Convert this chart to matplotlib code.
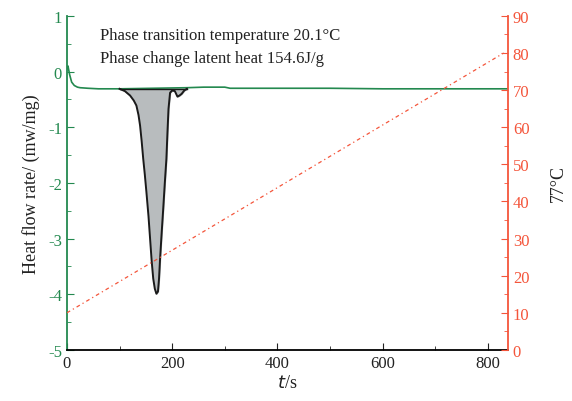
import matplotlib.pyplot as plt
from matplotlib.ticker import MultipleLocator

plt.rcParams['font.family'] = ['Liberation Serif', 'DejaVu Serif']
plt.rcParams['axes.unicode_minus'] = False

green = '#23894f'
red = '#f4553b'

# heat flow baseline (green trace)
t_base = [0, 2, 5, 9, 14, 20, 25, 40, 60, 80, 100, 228, 260, 300, 310, 400, 500, 600, 700, 800, 838]
hf_base = [0.05, 0.1, -0.05, -0.19, -0.25, -0.28, -0.29, -0.3, -0.31, -0.31, -0.31, -0.29, -0.28, -0.28, -0.3, -0.3, -0.3, -0.31, -0.31, -0.31, -0.31]

# melting peak (black outline, grey fill)
t_peak = [100, 110, 120, 127, 132, 136, 139, 142, 145, 148, 151, 155, 158, 161, 164, 167, 170, 173, 175, 177,
          180, 183, 186, 189, 191, 193, 196, 200, 205, 210, 214, 218, 223, 228]
hf_peak = [-0.31, -0.35, -0.43, -0.52, -0.61, -0.78, -0.97, -1.25, -1.57, -1.85, -2.16, -2.6, -3.0, -3.4, -3.72, -3.9, -3.99, -3.95, -3.72, -3.36,
           -2.9, -2.46, -2.0, -1.57, -1.1, -0.67, -0.38, -0.34, -0.35, -0.45, -0.43, -0.40, -0.34, -0.31]

# sample temperature
t_temp = [0, 830]
temp = [10, 80]

fig, ax = plt.subplots(figsize=(5.72, 4.02), dpi=100)
fig.subplots_adjust(left=0.117, right=0.888, top=0.958, bottom=0.127)

ax.plot(t_base, hf_base, color=green, lw=1.2, zorder=3)
ax.fill_between(t_peak, hf_peak, -0.31, color='#b8bcbe', zorder=2)
ax.plot(t_peak, hf_peak, color='#1a1a1a', lw=1.4, zorder=4)
ax.plot([t_peak[0], t_peak[-1]], [-0.31, -0.31], color='#1a1a1a', lw=1.0, zorder=4)

ax.set_xlim(0, 838)
ax.set_ylim(-5, 1)
ax.xaxis.set_major_locator(MultipleLocator(200))
ax.xaxis.set_minor_locator(MultipleLocator(100))
ax.yaxis.set_major_locator(MultipleLocator(1))
ax.yaxis.set_minor_locator(MultipleLocator(0.5))
ax.tick_params(axis='x', which='both', direction='in', colors='#222222', labelsize=12)
ax.tick_params(axis='y', which='both', direction='in', colors=green, labelsize=12)
ax.tick_params(which='major', length=5)
ax.tick_params(which='minor', length=3)
ax.spines['top'].set_visible(False)
ax.spines['right'].set_visible(False)
ax.spines['left'].set_color(green)
ax.spines['left'].set_linewidth(1.3)
ax.spines['bottom'].set_linewidth(1.3)
ax.set_ylabel('Heat flow rate/ (mw/mg)', fontsize=13, color='#222222', labelpad=6)
ax.set_xlabel(r'$\it{t}$/s', fontsize=13, color='#222222', labelpad=2)

ax2 = ax.twinx()
ax2.plot(t_temp, temp, color=red, lw=0.9, linestyle=(0, (3, 2.5, 1, 2.5)), zorder=1)
ax2.set_ylim(0, 90)
ax2.yaxis.set_major_locator(MultipleLocator(10))
ax2.yaxis.set_minor_locator(MultipleLocator(5))
ax2.tick_params(axis='y', which='both', direction='in', colors=red, labelsize=12)
ax2.tick_params(which='major', length=5)
ax2.tick_params(which='minor', length=3)
for s in ['top', 'left', 'bottom']:
    ax2.spines[s].set_visible(False)
ax2.spines['right'].set_color(red)
ax2.spines['right'].set_linewidth(1.3)
ax2.set_ylabel('77°C', fontsize=13, color='#222222', labelpad=15)

ax.text(63, 0.58, 'Phase transition temperature 20.1°C', fontsize=12, color='#222222')
ax.text(63, 0.17, 'Phase change latent heat 154.6J/g', fontsize=12, color='#222222')

fig.savefig('out.png')
